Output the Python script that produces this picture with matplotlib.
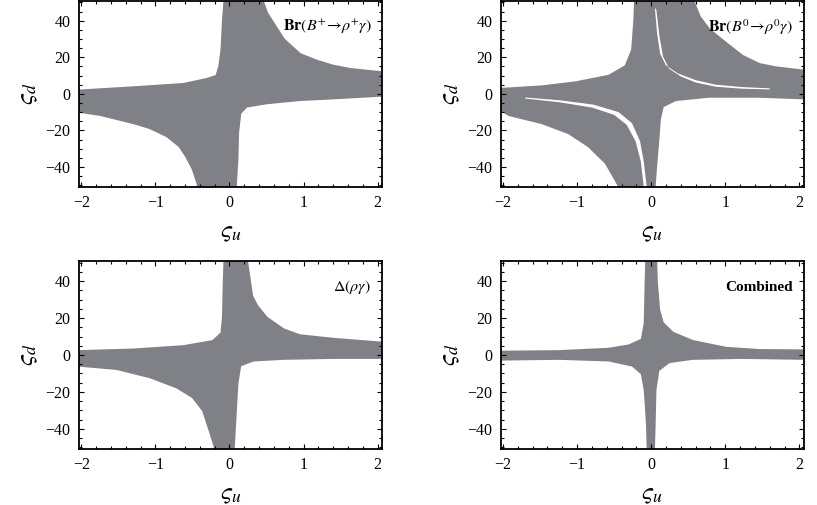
import numpy as np
import matplotlib.pyplot as plt

plt.rcParams['font.family'] = ['Liberation Serif', 'DejaVu Serif']
plt.rcParams['mathtext.fontset'] = 'stix'

GRAY = '#808087'

# allowed region outlines (zeta_u, zeta_d)
br_plus_u = [-0.06, 0.44, 0.50, 0.73, 0.95, 1.18, 1.40, 1.63, 2.06,
             2.06, 1.40, 0.95, 0.50, 0.23, 0.14, 0.11, 0.10, 0.08, 0.08,
             -0.42, -0.42, -0.49, -0.58, -0.67, -0.84, -1.07, -1.29, -1.74, -2.03,
             -2.03, -1.29, -0.62, -0.31, -0.17, -0.13, -0.10, -0.08, -0.06]
br_plus_d = [51, 51, 44.2, 29.6, 21.5, 17.8, 15.1, 13.3, 11.5,
             -0.7, -2.2, -3.1, -4.9, -6.7, -10.4, -21, -36, -49.5, -51,
             -51, -49.5, -41, -34, -28.5, -23, -18.5, -15.8, -11.3, -9.5,
             1.5, 3.3, 5.1, 7.8, 9.6, 15, 24, 40.5, 51]

br_zero_u = [-0.21, 0.56, 0.65, 0.78, 1.00, 1.23, 1.46, 1.68, 2.06,
             2.06, 1.46, 0.78, 0.33, 0.15, 0.11, 0.09, 0.06, 0.04, 0.04,
             -0.43, -0.43, -0.48, -0.61, -0.84, -1.11, -1.47, -1.92, -2.03,
             -2.03, -1.47, -1.02, -0.57, -0.34, -0.25, -0.22, -0.21]
br_zero_d = [51, 51, 42, 35, 27.8, 20.5, 16, 14.2, 12.4,
             -2.2, -1.3, -1.3, -3.1, -6.7, -14, -25, -39.5, -50.4, -51,
             -51, -50.4, -46.7, -37.6, -28.5, -21.3, -15.8, -11.3, -8.5,
             2.4, 3.8, 6, 9.6, 15, 24, 40.5, 51]

# white gaps inside the B0 region
gap1_u = [0.05, 0.08, 0.12, 0.20, 0.36, 0.60, 0.87, 1.23, 1.60,
          1.60, 1.23, 0.87, 0.60, 0.40, 0.24, 0.16, 0.11, 0.07]
gap1_d = [47, 33, 22, 15.5, 11.2, 7.5, 5.0, 3.7, 3.0,
          2.4, 2.8, 3.9, 6.2, 9.5, 13.8, 20.5, 32, 46]
gap3_u = [-1.70, -1.24, -0.80, -0.50, -0.33, -0.21, -0.14, -0.10,
          -0.06, -0.10, -0.15, -0.26, -0.44, -0.78, -1.24, -1.70]
gap3_d = [-2.6, -4.6, -7.5, -11.5, -17, -26, -37, -51,
          -51, -37, -26, -16, -10, -5.9, -3.5, -2.0]

delta_u = [-0.06, 0.23, 0.26, 0.30, 0.37, 0.50, 0.73, 0.95, 1.40, 2.06,
           2.06, 1.40, 0.73, 0.32, 0.14, 0.10, 0.08, 0.05,
           -0.19, -0.19, -0.26, -0.35, -0.49, -0.71, -1.07, -1.52, -2.03,
           -2.03, -1.29, -0.62, -0.22, -0.10, -0.08, -0.07, -0.06]
delta_d = [51, 51, 42.7, 31.8, 26.4, 20, 13.6, 10.4, 8.5, 6.4,
           -1.3, -1.3, -1.8, -2.7, -5.5, -15.5, -30, -51,
           -51, -50, -41, -30, -22.7, -17.3, -11.8, -7.3, -5.5,
           1.8, 2.7, 4.5, 7.3, 11.8, 20.9, 39, 51]

comb_u = [-0.06, 0.06, 0.07, 0.10, 0.15, 0.29, 0.56, 1.01, 1.46, 2.06,
          2.06, 1.23, 0.56, 0.24, 0.09, 0.05, 0.04, 0.03,
          -0.04, -0.05, -0.08, -0.12, -0.25, -0.57, -1.24, -2.03,
          -2.03, -1.24, -0.57, -0.30, -0.12, -0.08, -0.07, -0.06]
comb_d = [51, 51, 39, 24.5, 17.3, 11.8, 7.3, 3.6, 2.4, 2.2,
          -1.8, -1.3, -1.8, -3.6, -8.2, -19, -37, -51,
          -51, -37, -19, -10, -5.5, -2.7, -1.8, -2.2,
          1.5, 1.8, 3.1, 4.9, 8.2, 17.3, 35.5, 51]

titles = [r'$\mathbf{Br}(B^{+}\!\rightarrow\!\rho^{+}\gamma)$',
          r'$\mathbf{Br}(B^{0}\!\rightarrow\!\rho^{0}\gamma)$',
          r'$\Delta(\rho\gamma)$',
          'Combined']

fig = plt.figure(figsize=(8.17, 5.05), dpi=100)
boxes = [[0.0967, 0.6297, 0.371, 0.369],
         [0.6129, 0.6297, 0.371, 0.369],
         [0.0967, 0.1109, 0.371, 0.3723],
         [0.6129, 0.1109, 0.371, 0.3723]]
regions = [(br_plus_u, br_plus_d), (br_zero_u, br_zero_d),
           (delta_u, delta_d), (comb_u, comb_d)]

for i, box in enumerate(boxes):
    ax = fig.add_axes(box)
    u, d = regions[i]
    ax.fill(u, d, facecolor=GRAY, edgecolor=GRAY, linewidth=2.2, joinstyle='round')
    if i == 1:
        ax.fill(gap1_u, gap1_d, facecolor='white', edgecolor='none')
        ax.fill(gap3_u, gap3_d, facecolor='white', edgecolor='none')
    ax.set_xlim(-2.03, 2.06)
    ax.set_ylim(-51, 51)
    ax.set_xticks([-2, -1, 0, 1, 2])
    ax.set_yticks([-40, -20, 0, 20, 40])
    ax.set_xticks(np.arange(-2, 2.01, 0.2), minor=True)
    ax.set_yticks(np.arange(-50, 51, 5), minor=True)
    ax.set_xticklabels(['\u22122', '\u22121', '0', '1', '2'])
    ax.set_yticklabels(['\u221240', '\u221220', '0', '20', '40'])
    ax.tick_params(which='both', direction='in', top=True, right=True,
                   labelsize=11.5, width=0.8, colors='black')
    ax.tick_params(which='major', length=3.5, pad=6)
    ax.tick_params(which='minor', length=2)
    for s in ax.spines.values():
        s.set_linewidth(1.3)
    ax.set_xlabel(r'$\varsigma_{u}$', fontsize=18, labelpad=8)
    ax.set_ylabel(r'$\varsigma_{d}$', fontsize=18, labelpad=4)
    if i == 3:
        ax.text(0.965, 0.86, titles[i], transform=ax.transAxes, ha='right',
                va='center', fontsize=11, fontweight='bold')
    else:
        ax.text(0.965, 0.86, titles[i], transform=ax.transAxes, ha='right',
                va='center', fontsize=11.5)

fig.savefig('out.png', dpi=100)
